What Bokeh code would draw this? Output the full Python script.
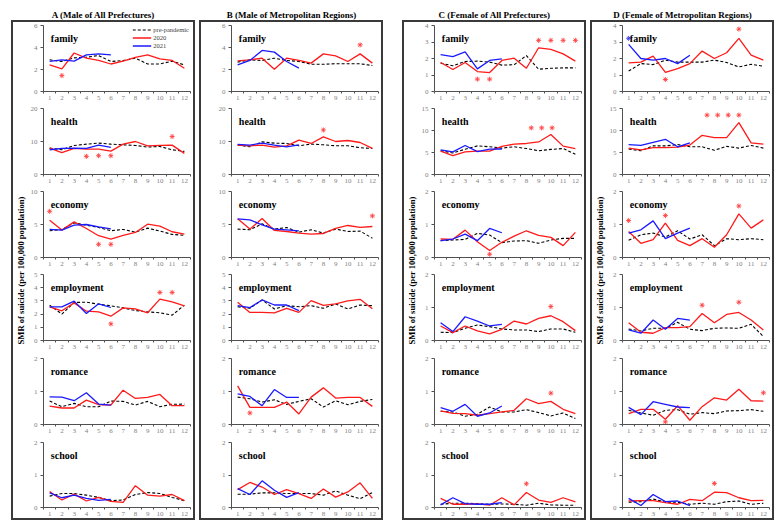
import math
from bokeh.plotting import figure
from bokeh.layouts import row, column
from bokeh.models import Range1d, FixedTicker, Legend, LegendItem, Spacer
from bokeh.core.properties import value
from bokeh.embed import file_html
from bokeh.resources import INLINE

# ---------------- data ----------------
months = [1, 2, 3, 4, 5, 6, 7, 8, 9, 10, 11, 12]
months_2021 = [1, 2, 3, 4, 5, 6]
categories = ["family", "health", "economy", "employment", "romance", "school"]
panel_keys = ["a", "b", "c", "d"]
panel_titles = ["A (Male of All Prefectures)", "B (Male of Metropolitan Regions)",
                "C (Female of All Prefectures)", "D (Female of Metropolitan Regions)"]
y_label_text = "SMR of suicide (per 100,000 population)"
panels_with_ylabel = ["a", "c", "d"]
legend_labels = ["pre-pandemic", "2020", "2021"]

male_y_max = [6, 20, 10, 5, 2, 2]
male_y_step = [2, 10, 5, 1, 1, 1]
female_y_max = [4, 15, 2, 2, 2, 2]
female_y_step = [1, 5, 1, 1, 1, 1]

# Panel A
a_family_pre = [2.88, 2.73, 3.06, 3.12, 3.27, 2.73, 2.82, 3.03, 2.5, 2.5, 2.76, 2.42]
a_family_2020 = [2.42, 2.06, 3.5, 3.03, 2.82, 2.5, 2.76, 3.1, 3.33, 2.97, 2.82, 2.12]
a_family_2021 = [2.73, 2.88, 2.76, 3.33, 3.42, 3.33]
a_family_star_x = [2]
a_family_star_y = [1.45]
a_health_pre = [8.0, 7.5, 8.8, 9.2, 9.5, 9.2, 9.0, 8.8, 8.3, 8.5, 7.5, 7.0]
a_health_2020 = [8.0, 6.6, 7.9, 7.7, 7.7, 7.1, 9.2, 10.0, 8.7, 8.8, 8.9, 6.4]
a_health_2021 = [7.5, 7.9, 8.0, 7.9, 8.9, 8.2]
a_health_star_x = [4, 5, 6, 11]
a_health_star_y = [5.5, 5.7, 5.7, 11.5]
a_economy_pre = [4.05, 4.25, 5.25, 4.9, 4.55, 4.05, 4.25, 3.85, 4.45, 4.0, 3.5, 3.35]
a_economy_2020 = [5.65, 4.15, 5.4, 4.4, 3.3, 2.8, 3.35, 3.8, 5.05, 4.75, 3.9, 3.55]
a_economy_2021 = [4.25, 4.15, 4.9, 5.0, 4.65, 4.35]
a_economy_star_x = [1, 5, 6]
a_economy_star_y = [7.0, 2.0, 2.0]
a_employment_pre = [2.68, 2.0, 2.88, 2.9, 2.75, 2.63, 2.47, 2.27, 2.17, 2.1, 1.92, 2.68]
a_employment_2020 = [2.55, 2.25, 2.85, 2.22, 2.17, 1.84, 2.47, 2.4, 2.1, 3.13, 2.93, 2.63]
a_employment_2021 = [2.55, 2.55, 2.98, 2.05, 2.78, 2.5]
a_employment_star_x = [6, 10, 11]
a_employment_star_y = [1.26, 3.64, 3.64]
a_romance_pre = [0.71, 0.54, 0.64, 0.54, 0.54, 0.71, 0.70, 0.59, 0.70, 0.54, 0.61, 0.62]
a_romance_2020 = [0.56, 0.5, 0.5, 0.74, 0.6, 0.59, 1.04, 0.79, 0.82, 0.91, 0.57, 0.57]
a_romance_2021 = [0.84, 0.83, 0.72, 0.96, 0.62, 0.59]
a_school_pre = [0.35, 0.43, 0.43, 0.38, 0.31, 0.21, 0.23, 0.40, 0.46, 0.43, 0.31, 0.21]
a_school_2020 = [0.49, 0.23, 0.41, 0.2, 0.31, 0.19, 0.16, 0.67, 0.38, 0.35, 0.40, 0.21]
a_school_2021 = [0.45, 0.3, 0.38, 0.28, 0.22, 0.25]

# Panel B
b_family_pre = [2.67, 2.88, 2.82, 3.03, 2.82, 2.73, 2.48, 2.48, 2.52, 2.52, 2.52, 2.36]
b_family_2020 = [2.79, 2.88, 3.03, 2.03, 3.03, 2.82, 2.58, 3.42, 3.24, 2.73, 3.42, 2.58]
b_family_2021 = [2.42, 2.82, 3.73, 3.58, 2.73, 2.12]
b_family_star_x = [11]
b_family_star_y = [4.24]
b_health_pre = [8.9, 8.4, 9.9, 9.5, 9.4, 8.7, 9.2, 9.0, 8.7, 8.7, 8.1, 7.9]
b_health_2020 = [8.9, 8.7, 8.9, 8.3, 8.7, 10.4, 9.4, 11.4, 10.0, 10.3, 9.7, 7.9]
b_health_2021 = [9.1, 8.9, 9.5, 8.9, 8.4, 9.0]
b_health_star_x = [8]
b_health_star_y = [13.5]
b_economy_pre = [4.3, 4.2, 5.1, 4.3, 4.55, 3.84, 4.2, 3.7, 4.3, 3.94, 4.0, 2.93]
b_economy_2020 = [5.86, 4.3, 5.9, 4.1, 3.94, 3.7, 3.54, 3.64, 4.4, 4.85, 4.55, 4.7]
b_economy_2021 = [5.86, 5.7, 4.95, 4.3, 4.2, 4.04]
b_economy_star_x = [12]
b_economy_star_y = [6.3]
b_employment_pre = [2.56, 2.44, 3.07, 2.39, 2.64, 2.56, 2.64, 2.44, 2.77, 2.39, 2.69, 2.64]
b_employment_2020 = [2.89, 2.13, 2.13, 2.1, 2.44, 2.13, 3.02, 2.66, 2.77, 3.0, 3.12, 2.41]
b_employment_2021 = [2.64, 2.49, 3.07, 2.69, 2.69, 2.26]
b_romance_pre = [0.83, 0.78, 0.68, 0.75, 0.61, 0.70, 0.78, 0.53, 0.72, 0.60, 0.70, 0.76]
b_romance_2020 = [1.17, 0.52, 0.52, 0.52, 0.68, 0.32, 0.83, 1.11, 0.80, 0.82, 0.82, 0.55]
b_romance_2021 = [0.93, 0.85, 0.57, 1.06, 0.82, 0.82]
b_romance_star_x = [2]
b_romance_star_y = [0.35]
b_school_pre = [0.41, 0.41, 0.45, 0.45, 0.43, 0.43, 0.43, 0.38, 0.51, 0.38, 0.27, 0.46]
b_school_2020 = [0.55, 0.77, 0.63, 0.40, 0.55, 0.43, 0.28, 0.57, 0.32, 0.48, 0.76, 0.28]
b_school_2021 = [0.58, 0.40, 0.82, 0.53, 0.31, 0.46]

# Panel C
c_family_pre = [1.72, 1.56, 1.82, 1.84, 1.78, 1.6, 1.62, 2.18, 1.35, 1.41, 1.43, 1.43]
c_family_2020 = [1.76, 1.33, 1.76, 1.21, 1.15, 1.88, 2.02, 1.41, 2.65, 2.55, 2.28, 1.84]
c_family_2021 = [2.24, 2.12, 2.4, 1.37, 1.88, 1.98]
c_family_star_x = [4, 5, 9, 10, 11, 12]
c_family_star_y = [0.75, 0.75, 3.1, 3.1, 3.1, 3.1]
c_health_pre = [5.4, 4.9, 5.75, 6.5, 6.3, 6.0, 6.3, 5.9, 5.4, 5.7, 5.9, 4.6]
c_health_2020 = [5.3, 4.3, 5.15, 5.3, 5.3, 6.4, 6.9, 7.05, 7.4, 9.1, 6.45, 5.9]
c_health_2021 = [5.6, 5.15, 6.6, 5.2, 5.75, 5.8]
c_health_star_x = [8.4, 9.25, 10.1]
c_health_star_y = [10.6, 10.6, 10.6]
c_economy_pre = [0.51, 0.53, 0.55, 0.73, 0.68, 0.45, 0.5, 0.51, 0.43, 0.53, 0.58, 0.58]
c_economy_2020 = [0.56, 0.55, 0.83, 0.48, 0.21, 0.46, 0.65, 0.81, 0.67, 0.61, 0.36, 0.76]
c_economy_2021 = [0.51, 0.56, 0.71, 0.51, 0.88, 0.75]
c_economy_star_x = [5]
c_economy_star_y = [0.1]
c_employment_pre = [0.25, 0.24, 0.37, 0.47, 0.42, 0.35, 0.32, 0.32, 0.27, 0.35, 0.35, 0.25]
c_employment_2020 = [0.44, 0.24, 0.44, 0.29, 0.2, 0.34, 0.59, 0.5, 0.67, 0.75, 0.57, 0.3]
c_employment_2021 = [0.54, 0.27, 0.72, 0.59, 0.44, 0.49]
c_employment_star_x = [10]
c_employment_star_y = [1.03]
c_romance_pre = [0.4, 0.38, 0.25, 0.31, 0.53, 0.38, 0.38, 0.45, 0.36, 0.26, 0.35, 0.18]
c_romance_2020 = [0.41, 0.34, 0.33, 0.28, 0.33, 0.38, 0.43, 0.78, 0.63, 0.7, 0.46, 0.33]
c_romance_2021 = [0.51, 0.4, 0.61, 0.25, 0.35, 0.56]
c_romance_star_x = [10]
c_romance_star_y = [0.95]
c_school_pre = [0.1, 0.13, 0.13, 0.12, 0.1, 0.11, 0.1, 0.07, 0.13, 0.08, 0.07, 0.07]
c_school_2020 = [0.28, 0.1, 0.1, 0.11, 0.07, 0.3, 0.08, 0.46, 0.23, 0.16, 0.3, 0.17]
c_school_2021 = [0.08, 0.3, 0.12, 0.1, 0.1, 0.15]
c_school_star_x = [8]
c_school_star_y = [0.73]

# Panel D
d_family_pre = [1.24, 1.69, 1.63, 1.9, 1.78, 1.78, 1.78, 1.9, 1.76, 1.49, 1.65, 1.53]
d_family_2020 = [1.73, 1.78, 2.14, 1.16, 1.39, 1.69, 2.45, 2.0, 2.35, 3.22, 2.2, 1.9]
d_family_2021 = [2.86, 2.0, 1.9, 2.0, 1.69, 2.2]
d_family_star_x = [4, 10]
d_family_star_y = [0.73, 3.78]
d_family_star2021_x = [1]
d_family_star2021_y = [3.22]
d_health_pre = [5.8, 5.4, 6.5, 6.5, 6.8, 6.3, 6.3, 5.5, 6.4, 6.0, 6.6, 6.0]
d_health_2020 = [6.0, 5.6, 6.1, 6.1, 6.2, 6.7, 8.9, 8.4, 8.4, 11.8, 7.2, 6.9]
d_health_2021 = [6.8, 6.6, 7.3, 8.0, 6.3, 7.2]
d_health_star_x = [7.4, 8.27, 9.13, 10.0]
d_health_star_y = [13.5, 13.5, 13.5, 13.5]
d_economy_pre = [0.52, 0.69, 0.74, 0.62, 0.81, 0.56, 0.69, 0.36, 0.57, 0.54, 0.57, 0.54]
d_economy_2020 = [0.79, 0.43, 0.54, 1.04, 0.52, 0.36, 0.57, 0.31, 0.69, 1.32, 0.89, 1.14]
d_economy_2021 = [0.74, 0.84, 1.11, 0.57, 0.74, 0.89]
d_economy_star_x = [1, 4, 10]
d_economy_star_y = [1.12, 1.27, 1.56]
d_employment_pre = [0.35, 0.29, 0.37, 0.37, 0.55, 0.34, 0.3, 0.37, 0.38, 0.37, 0.49, 0.12]
d_employment_2020 = [0.54, 0.25, 0.22, 0.39, 0.39, 0.42, 0.82, 0.54, 0.79, 0.85, 0.62, 0.32]
d_employment_2021 = [0.32, 0.22, 0.62, 0.34, 0.67, 0.62]
d_employment_star_x = [7, 10]
d_employment_star_y = [1.07, 1.16]
d_romance_pre = [0.43, 0.35, 0.28, 0.43, 0.45, 0.31, 0.36, 0.33, 0.41, 0.42, 0.45, 0.4]
d_romance_2020 = [0.33, 0.46, 0.46, 0.16, 0.57, 0.13, 0.54, 0.81, 0.74, 1.07, 0.72, 0.71]
d_romance_2021 = [0.52, 0.3, 0.69, 0.61, 0.53, 0.51]
d_romance_star_x = [4, 12]
d_romance_star_y = [0.08, 0.96]
d_school_pre = [0.16, 0.18, 0.26, 0.16, 0.16, 0.1, 0.13, 0.1, 0.18, 0.2, 0.1, 0.13]
d_school_2020 = [0.2, 0.21, 0.21, 0.15, 0.1, 0.25, 0.21, 0.47, 0.46, 0.3, 0.21, 0.22]
d_school_2021 = [0.28, 0.06, 0.4, 0.18, 0.2, 0.06]
d_school_star_x = [8]
d_school_star_y = [0.74]

# ---------------- style ----------------
FONT = "Liberation Serif"
COL_PRE = "#000000"
COL_2020 = "#ff1a1a"
COL_2021 = "#1a1aff"
STAR_RED = "#ff4040"
STAR_BLUE = "#4040ff"
AXIS_COL = "#505050"
TICK_LABEL_COL = "#7f7f7f"

PANEL_W = 184
BORDER = 2
YLAB_W = 14
SUB_W = PANEL_W - 2 * BORDER - YLAB_W  # 166
FRAME_H = 66
TOP_B = 3
SUB_HEIGHTS = [83, 83, 83, 84, 84, 79]
CONTENT_H = sum(SUB_HEIGHTS)
TITLE_H = 20
G = globals()


def sub_figure(key, ci, cat, height):
    male = key in ("a", "b")
    ymax = (male_y_max if male else female_y_max)[ci]
    ystep = (male_y_step if male else female_y_step)[ci]
    p = figure(width=SUB_W, height=height,
               x_range=Range1d(0.5, 12.5), y_range=Range1d(0, ymax),
               output_backend="svg", toolbar_location=None, tools="",
               min_border_left=16, min_border_right=3,
               min_border_top=TOP_B, min_border_bottom=height - TOP_B - FRAME_H)
    p.outline_line_color = None
    p.grid.visible = False
    p.background_fill_color = "white"
    p.border_fill_color = "white"

    xa = p.xaxis[0]
    xa.ticker = FixedTicker(ticks=months, minor_ticks=[m - 0.5 for m in months] + [12.5])
    xa.major_tick_out = 0
    xa.major_tick_in = 0
    xa.minor_tick_out = 2
    xa.minor_tick_in = 0
    xa.minor_tick_line_color = AXIS_COL
    xa.axis_line_color = AXIS_COL
    xa.major_label_text_font = FONT
    xa.major_label_text_font_size = "7px"
    xa.major_label_text_color = TICK_LABEL_COL
    xa.major_label_standoff = 2

    ya = p.yaxis[0]
    ya.ticker = FixedTicker(ticks=list(range(0, ymax + 1, ystep)))
    ya.major_tick_out = 3
    ya.major_tick_in = 0
    ya.minor_tick_out = 0
    ya.minor_tick_in = 0
    ya.major_tick_line_color = AXIS_COL
    ya.axis_line_color = AXIS_COL
    ya.major_label_text_font = FONT
    ya.major_label_text_font_size = "7px"
    ya.major_label_text_color = TICK_LABEL_COL
    ya.major_label_standoff = 3

    pre = G[f"{key}_{cat}_pre"]
    y20 = G[f"{key}_{cat}_2020"]
    y21 = G[f"{key}_{cat}_2021"]
    r_pre = p.line(months, pre, line_color=COL_PRE, line_width=1.1, line_dash="3 2")
    r_20 = p.line(months, y20, line_color=COL_2020, line_width=1.3)
    r_21 = p.line(months_2021, y21, line_color=COL_2021, line_width=1.3)

    sx = G.get(f"{key}_{cat}_star_x", [])
    sy = G.get(f"{key}_{cat}_star_y", [])
    if sx:
        p.scatter(sx, sy, marker="asterisk", size=5, line_width=0.9, line_color=STAR_RED)
    bx = G.get(f"{key}_{cat}_star2021_x", [])
    by = G.get(f"{key}_{cat}_star2021_y", [])
    if bx:
        p.scatter(bx, by, marker="asterisk", size=5, line_width=0.9, line_color=STAR_BLUE)

    p.text(x=[1.1], y=[ymax * (1 - 13.0 / FRAME_H)], text=[cat],
           text_font=value(FONT), text_font_style="bold", text_font_size="10px",
           text_color="black", text_baseline="alphabetic", text_align="left")

    if key == "a" and ci == 0:
        legend = Legend(items=[LegendItem(label=legend_labels[0], renderers=[r_pre]),
                               LegendItem(label=legend_labels[1], renderers=[r_20]),
                               LegendItem(label=legend_labels[2], renderers=[r_21])],
                        location="top_right")
        legend.label_text_font = FONT
        legend.label_text_font_size = "6.5px"
        legend.label_text_color = "#404040"
        legend.glyph_width = 19
        legend.glyph_height = 7
        legend.label_height = 7
        legend.label_standoff = 2
        legend.spacing = 1
        legend.padding = 0
        legend.margin = 1
        legend.border_line_color = None
        legend.background_fill_alpha = 0
        p.add_layout(legend)
    return p


def title_figure(title):
    t = figure(width=PANEL_W, height=TITLE_H, x_range=Range1d(0, 1), y_range=Range1d(0, TITLE_H),
               output_backend="svg", toolbar_location=None, tools="",
               x_axis_location=None, y_axis_location=None, min_border=0)
    t.grid.visible = False
    t.outline_line_color = None
    t.text(x=[0.5], y=[5.5], text=[title], text_align="center", text_baseline="alphabetic",
           text_font=value(FONT), text_font_style="bold", text_font_size="9px", text_color="black")
    return t


def ylabel_figure():
    f = figure(width=YLAB_W, height=CONTENT_H, x_range=Range1d(0, 1), y_range=Range1d(0, 1),
               output_backend="svg", toolbar_location=None, tools="",
               x_axis_location=None, y_axis_location=None, min_border=0)
    f.grid.visible = False
    f.outline_line_color = None
    f.text(x=[0.5], y=[0.5], text=[y_label_text], angle=math.pi / 2,
           text_align="center", text_baseline="middle",
           text_font=value(FONT), text_font_style="bold", text_font_size="8.6px", text_color="black")
    return f


panels = []
for key, title in zip(panel_keys, panel_titles):
    subs = [sub_figure(key, ci, cat, SUB_HEIGHTS[ci]) for ci, cat in enumerate(categories)]
    left = ylabel_figure() if key in panels_with_ylabel else Spacer(width=YLAB_W, height=CONTENT_H)
    inner = row(left, column(*subs, spacing=0), spacing=0,
                styles={"border": f"{BORDER}px solid #3a3a3a"})
    panels.append(column(title_figure(title), inner, spacing=0))

layout = row(Spacer(width=11, height=10), panels[0], Spacer(width=4, height=10), panels[1],
             Spacer(width=19, height=10), panels[2], Spacer(width=4, height=10), panels[3],
             spacing=0)

open("out.html", "w").write(file_html(layout, INLINE))
